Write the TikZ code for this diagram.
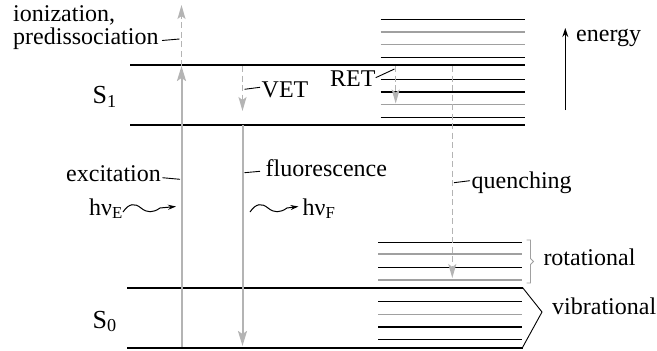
\documentclass[tikz,border=0pt]{standalone}
\usepackage{fontspec}
\setmainfont{Liberation Serif}
\usetikzlibrary{arrows.meta}

\definecolor{arrowgray}{HTML}{B4B4B4}
\definecolor{levelgray}{HTML}{A0A0A0}

\begin{document}
\begin{tikzpicture}[x=1pt,y=-1pt,
  txt/.style={font=\fontsize{24}{24}\selectfont, inner sep=0pt, anchor=base west},
  statelbl/.style={font=\fontsize{26}{26}\selectfont, inner sep=0pt, anchor=base west},
  mainlevel/.style={line width=2pt},
  sublevel/.style={line width=1.2pt},
  sublevelgray/.style={line width=1.5pt, levelgray},
  transition/.style={arrowgray, line width=2pt, -{Stealth[length=15pt,width=9pt,inset=3pt]}},
  nonrad/.style={arrowgray, line width=1.4pt, dash pattern=on 6pt off 3.5pt, -{Stealth[length=14pt,width=8pt,inset=3pt]}},
  leader/.style={line width=0.9pt},
  photon/.style={line width=1pt, -{Stealth[length=8pt,width=5pt]}},
  brace/.style={line width=0.9pt},
]
\useasboundingbox (0,0) rectangle (657,351);

% ---------- electronic levels ----------
\coordinate (S1t-w) at (130,65);    \coordinate (S1t-e) at (525,65);
\coordinate (S1b-w) at (130,125);   \coordinate (S1b-e) at (525,125);
\coordinate (S0t-w) at (127,287.5); \coordinate (S0t-e) at (522.5,287.5);
\coordinate (S0b-w) at (127,347.5); \coordinate (S0b-e) at (522.5,347.5);
\coordinate (vibtip) at (542,312);

\draw[mainlevel] (S1t-w) -- (S1t-e);
\draw[mainlevel] (S1b-w) -- (S1b-e);
\draw[mainlevel] (S0t-w) -- (S0t-e);
\draw[mainlevel] (S0b-w) -- (S0b-e);
\draw[brace] (S0t-e) -- (vibtip) -- (S0b-e);

% ---------- sublevels ----------
\foreach \y/\s in {19.3/sublevel, 32/sublevelgray, 44.3/sublevelgray, 57.3/sublevel,
                   79.3/sublevel, 92/sublevel, 104.7/sublevelgray, 117.3/sublevel}
  \draw[\s] (380.5,\y) -- (525,\y);
\foreach \y/\s in {242.3/sublevel, 254/sublevelgray, 267.3/sublevel, 280/sublevelgray,
                   301.7/sublevel, 314.3/sublevelgray, 327/sublevel, 339.3/sublevel}
  \draw[\s] (378,\y) -- (522,\y);

% rotational bracket
\draw[brace, levelgray] (526.5,240) -- (530.5,240) -- (530.5,258.5) -- (533.5,261.5)
  -- (530.5,264.5) -- (530.5,283) -- (526.5,283);

% ---------- transitions ----------
\coordinate (exc-bot) at (181.5,347);
\coordinate (exc-top) at (181.5,66);
\coordinate (ion-top) at (181.5,5);
\coordinate (vet-top) at (242.5,66);
\coordinate (vet-bot) at (242.5,111);
\coordinate (fl-top)  at (242.5,125);
\coordinate (fl-bot)  at (242.5,346);
\coordinate (ret-top) at (395.7,66);
\coordinate (ret-bot) at (395.7,103.5);
\coordinate (q-top)   at (452.3,66);
\coordinate (q-bot)   at (452.3,278);

\draw[transition] (exc-bot) -- (exc-top);
\draw[nonrad] (exc-top) -- (ion-top);
\draw[nonrad] (vet-top) -- (vet-bot);
\draw[transition] (fl-top) -- (fl-bot);
\draw[nonrad] (ret-top) -- (ret-bot);
\draw[nonrad] (q-top) -- (q-bot);

% ---------- labels ----------
% two-line label: the base anchor sits on the baseline of its last line
\node[txt, font=\fontsize{24}{23}\selectfont, align=left] (ion) at (13,44.5)
  {ionization,\\predissociation};
\node[statelbl] (S1) at (92.5,103.5) {S\textsubscript{1}};
\node[statelbl] (S0) at (92.5,328) {S\textsubscript{0}};
\node[txt] (vet) at (261.5,97) {VET};
\node[txt] (ret) at (330,86) {RET};
\node[txt] (exc) at (66,181.5) {excitation};
\node[txt] (fluo) at (265.5,176) {fluorescence};
\node[txt] (hvE) at (89,215) {hν\textsubscript{E}};
\node[txt] (hvF) at (302.5,215) {hν\textsubscript{F}};
\node[txt] (quen) at (471.5,188.3) {quenching};
\node[txt] (energy) at (576,41.7) {energy};
\node[txt] (rot) at (543.3,265) {rotational};
\node[txt] (vib) at (552,314) {vibrational};

% leader lines
\draw[leader] (162,40.5) -- (179.5,39);
\draw[leader] (244.5,89.3) -- (260,87.3);
\draw[leader] (375.7,77.7) -- (394.5,69);
\draw[leader] (162.3,177.7) -- (180,179.3);
\draw[leader] (244.5,172.7) -- (260,171.3);
\draw[leader] (454,182.7) -- (470,180.7);

% photons
\draw[photon] (123,212) .. controls (129,203) and (135,203) .. (141,208)
  .. controls (147,213) and (153,213) .. (160,208) -- (176,206.5);
\draw[photon] (250,212) .. controls (256,203) and (262,203) .. (268,208)
  .. controls (274,213) and (280,213) .. (287,208) -- (298.5,206.5);

% energy axis
\coordinate (en-bot) at (565.3,110);
\coordinate (en-top) at (565.3,28);
\draw[line width=1.3pt, -{Stealth[length=9pt,width=6pt]}] (en-bot) -- (en-top);
\end{tikzpicture}
\end{document}
